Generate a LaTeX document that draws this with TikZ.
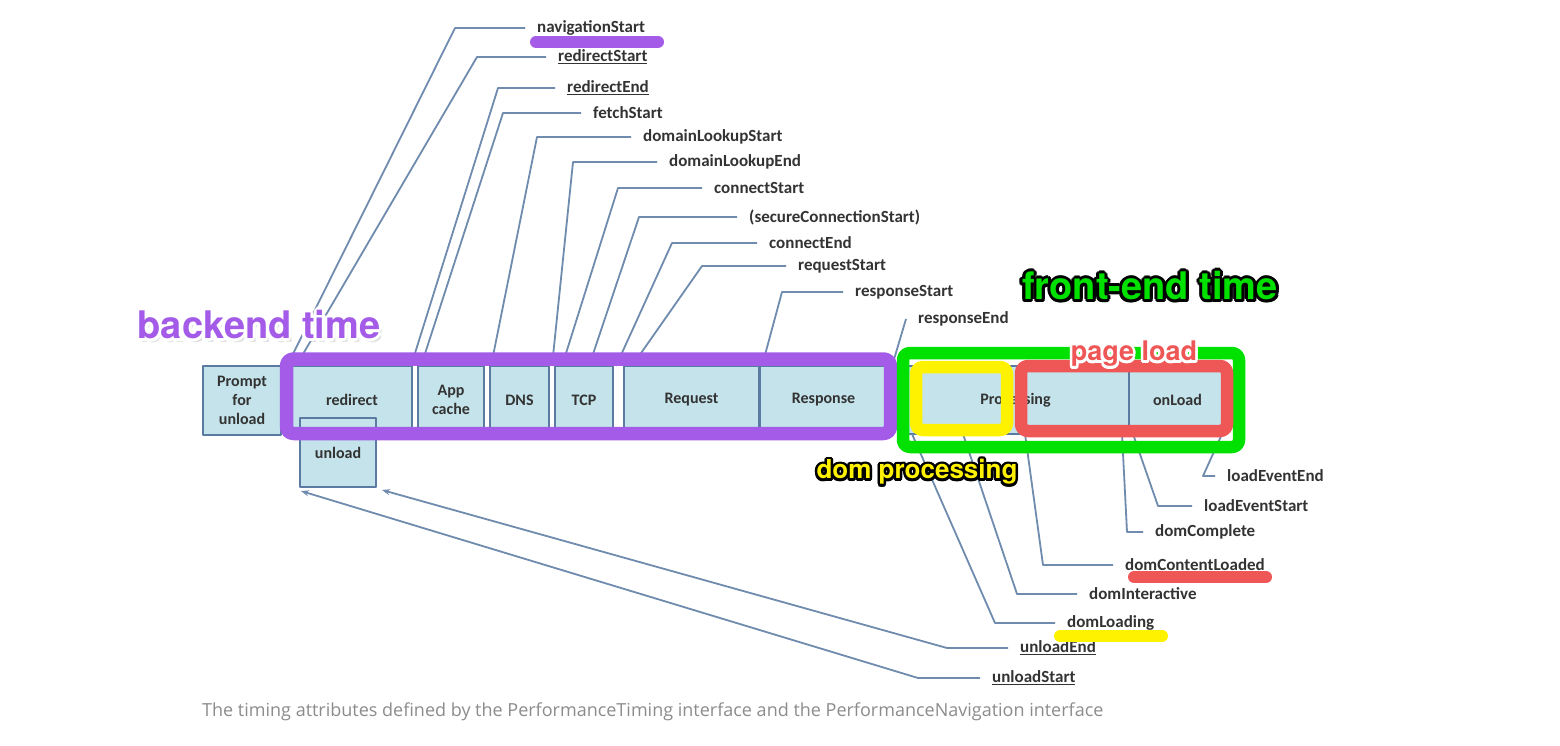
\documentclass[tikz,border=0pt]{standalone}
\usepackage{fontspec}
\setmainfont{Carlito}
\newfontfamily\bannerfont{TeX Gyre Heros}
\newfontfamily\notefont{Open Sans}
\usetikzlibrary{arrows.meta,positioning}

\definecolor{stagefill}{HTML}{C4E3EA}
\definecolor{stageline}{HTML}{5A7AA2}
\definecolor{tickline}{HTML}{6F8BAE}
\definecolor{labeltext}{HTML}{333333}
\definecolor{backendpurple}{HTML}{A35BE8}
\definecolor{frontgreen}{HTML}{00E100}
\definecolor{domyellow}{HTML}{FFF200}
\definecolor{loadred}{HTML}{EF5757}
\definecolor{notegray}{HTML}{8C8C8C}

% text with a halo round it: name, position, text colour, halo colour, radius, text
\newcommand\halotext[6]{%
  \foreach \ang in {0,30,...,330}
    \node[banner, text=#4] (#1-\ang) at ([shift={(\ang:#5)}]#2) {#6};
  \node[banner, text=#3] (#1) at (#2) {#6};
}

\begin{document}
\begin{tikzpicture}[x=1pt,y=-1pt,line join=round,
    stage/.style={draw=stageline, fill=stagefill, line width=2pt, inner sep=0pt,
      outer sep=0pt, anchor=north west, minimum height=68, text=labeltext,
      align=center, font=\bfseries\fontsize{16}{19}\selectfont},
    attr/.style={anchor=west, inner xsep=12pt, inner ysep=0pt, text=labeltext,
      font=\bfseries\fontsize{17}{20}\selectfont},
    tick/.style={draw=tickline, line width=1.8pt},
    frame/.style={line width=12.5pt, rounded corners=7pt},
    marker/.style={line width=12pt, line cap=round},
    banner/.style={inner sep=0pt, font=\bannerfont\bfseries},
    note/.style={anchor=west, inner sep=0pt, text=notegray,
      font=\notefont\fontsize{18}{20}\selectfont}]

    % page
    \fill[white] (0,0) rectangle (1560,746);
    \useasboundingbox (0,0) rectangle (1560,746);

    % key values
    \def\rowtop{366}

    % stages of the timeline
    \node[stage, minimum width=78, minimum height=69] (prompt) at (203,\rowtop) {Prompt\\for\\unload};
    \node[stage, minimum width=120] (redirect) at (292,\rowtop) {redirect};
    \node[stage, minimum width=66, right=6pt of redirect] (appcache) {App\\cache};
    \node[stage, minimum width=59, right=6pt of appcache] (dns) {DNS};
    \node[stage, minimum width=58, right=6pt of dns] (tcp) {TCP};
    \node[stage, minimum width=135, right=11pt of tcp] (request) {Request};
    \node[stage, minimum width=127, right=1pt of request] (response) {Response};
    \node[stage, minimum width=227, right=15pt of response] (processing) {Processing};
    \node[stage, minimum width=97, right=0pt of processing] (onload) {onLoad};
    \node[stage, minimum width=76, minimum height=69] (unload) at (300,418) {unload};

    % attributes above the timeline
    \node[attr] (navstart) at (525,28) {navigationStart};
    \node[attr] (redirstart) at (546,57) {\underline{redirectStart}};
    \node[attr] (redirend) at (555,88) {\underline{redirectEnd}};
    \node[attr] (fetchstart) at (581,113) {fetchStart};
    \node[attr] (dnsstart) at (631,137) {domainLookupStart};
    \node[attr] (dnsend) at (657,162) {domainLookupEnd};
    \node[attr] (connstart) at (702,188) {connectStart};
    \node[attr] (securestart) at (737,217) {(secureConnectionStart)};
    \node[attr] (connend) at (757,243) {connectEnd};
    \node[attr] (reqstart) at (786,266) {requestStart};
    \node[attr] (respstart) at (843,292) {responseStart};
    \node[attr] (respend) at (906,319) {responseEnd};

    % attributes below the timeline
    \node[attr] (loadend) at (1215,476) {loadEventEnd};
    \node[attr] (loadstart) at (1192,506) {loadEventStart};
    \node[attr] (domcomplete) at (1143,532) {domComplete};
    \node[attr] (domcontent) at (1113,565) {domContentLoaded};
    \node[attr] (dominteractive) at (1077,594) {domInteractive};
    \node[attr] (domloading) at (1055,623) {domLoading};
    \node[attr] (unloadend) at (1008,648) {\underline{unloadEnd}};
    \node[attr] (unloadstart) at (980,678) {\underline{unloadStart}};

    % ticks above
    \draw[tick] (navstart.west) -- ++(-70,0) -- ([xshift=-5]redirect.north west);
    \draw[tick] (redirstart.west) -- ++(-69,0) -- ([xshift=4]redirect.north west);
    \draw[tick] (redirend.west) -- ++(-57,0) -- ([xshift=-1]redirect.north east);
    \draw[tick] (fetchstart.west) -- ++(-78,0) -- ([xshift=3]appcache.north west);
    \draw[tick] (dnsstart.west) -- ++(-94,0) -- ([xshift=1]dns.north west);
    \draw[tick] (dnsend.west) -- ++(-84,0) -- ([xshift=3]dns.north east);
    \draw[tick] (connstart.west) -- ++(-84,0) -- ([xshift=7]tcp.north west);
    \draw[tick] (securestart.west) -- ++(-98,0) -- ([xshift=34]tcp.north west);
    \draw[tick] (connend.west) -- ++(-85,0) -- ([xshift=3]tcp.north east);
    \draw[tick] (reqstart.west) -- ++(-84,0) -- ([xshift=8]request.north west);
    \draw[tick] (respstart.west) -- ++(-61,0) -- ([xshift=2]response.north west);
    \draw[tick] (respend.west) -- ([xshift=5]response.north east);

    % ticks below
    \draw[tick] (loadend.west) -- ++(-12,0) -- ([xshift=-4]onload.south east);
    \draw[tick] (loadstart.west) -- ++(-34,0) -- ([xshift=4]onload.south west);
    \draw[tick] (domcomplete.west) -- ++(-16,0) -- ([xshift=-7]processing.south east);
    \draw[tick] (domcontent.west) -- ++(-70,0) -- ([xshift=123]processing.south west);
    \draw[tick] (dominteractive.west) -- ++(-60,0) -- ([xshift=61]processing.south west);
    \draw[tick] (domloading.west) -- ++(-60,0) -- ([xshift=10]processing.south west);
    \draw[tick, -{Stealth[length=8pt,width=6pt]}] (unloadend.west) -- ++(-61,0)
        -- ([shift={(6,3)}]unload.south east);
    \draw[tick, -{Stealth[length=8pt,width=6pt]}] (unloadstart.west) -- ++(-62,0)
        -- ([shift={(1,4)}]unload.south west);

    % backend and front-end frames
    \draw[frame, line width=13.5pt, draw=backendpurple] (286.5,359) rectangle (890.5,433.5);
    \draw[frame, draw=frontgreen] (903,353) rectangle (1239,447);
    \draw[frame, draw=domyellow] (916,367) rectangle (1007,430);
    \draw[frame, draw=loadred] (1021,366) rectangle (1227,431);

    % highlight bars
    \draw[marker, draw=backendpurple] (536,42) -- (658,42);
    \draw[marker, draw=loadred] (1134,577) -- (1266,577);
    \draw[marker, draw=domyellow] (1060,636) -- (1162,636);

    % banners
    \foreach \dx/\dy in {1/2,2/3,3/4}
      \node[banner, text=black, opacity=0.1] (shade-\dx) at (259+\dx,325+\dy)
        {\fontsize{38}{40}\selectfont backend time};
    \halotext{backend}{259,325}{backendpurple}{white}{3}{\fontsize{38}{40}\selectfont backend time}
    \halotext{frontend}{1150,286}{frontgreen}{black}{3}{\fontsize{38}{40}\selectfont front-end time}
    \halotext{domproc}{917,472}{domyellow}{black}{2.5}{\fontsize{26}{28}\selectfont dom processing}
    \halotext{pageload}{1134,354}{loadred}{white}{2.5}{\fontsize{27}{29}\selectfont page load}

    % caption
    \node[note] (caption) at (202,712) {The timing attributes defined by the PerformanceTiming interface and the PerformanceNavigation interface};

\end{tikzpicture}
\end{document}
